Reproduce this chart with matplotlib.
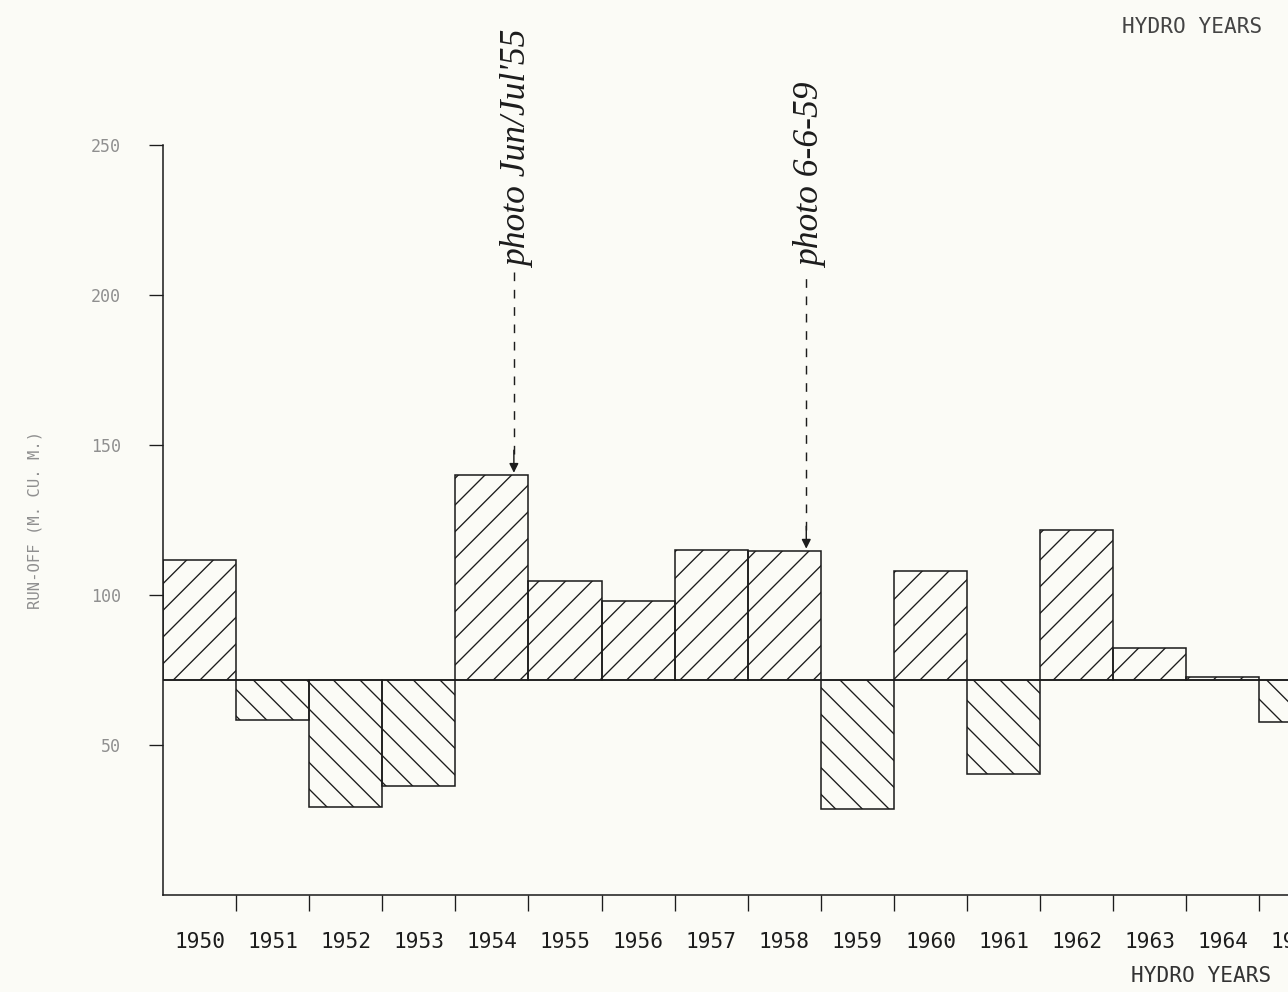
import matplotlib.pyplot as plt
import matplotlib.transforms as mtransforms

# hydro years and annual run-off (M. CU. M.)
years = ['1950', '1951', '1952', '1953', '1954', '1955', '1956', '1957',
         '1958', '1959', '1960', '1961', '1962', '1963', '1964', '1965']
runoff = [111.7, 58.3, 29.3, 36.3, 140.0, 104.7, 98.0, 115.0,
          114.7, 28.7, 108.0, 40.3, 121.7, 82.3, 72.6, 57.7]
baseline = 71.7
y_ticks = [50, 100, 150, 200, 250]

# handwritten notes: (bar index, note text)
notes = [(4, "photo Jun/Jul'55"), (8, "photo 6-6-59")]

paper = '#fbfbf6'
ink = '#1c1c1c'
faint = '#8f8f8f'

# dpi 80 gives a denser hatch, closer to the plotter one
DPI = 80
plt.rcParams['hatch.linewidth'] = 1.2
plt.rcParams['hatch.color'] = ink

fig = plt.figure(figsize=(1288/DPI, 992/DPI), dpi=DPI, facecolor=paper)
ax = fig.add_axes([163/1288, 97/992, 1 - 163/1288, 750/992])
ax.set_facecolor(paper)

x = list(range(len(years)))
heights = [v - baseline for v in runoff]
hatches = ['/' if h >= 0 else '\\' for h in heights]
bars = ax.bar(x, heights, width=1.0, bottom=baseline, align='edge',
              color='none', edgecolor=ink, linewidth=1.4)
for b, h in zip(bars, hatches):
    b.set_hatch(h)

ax.axhline(baseline, color=ink, lw=1.4)

ax.set_xlim(0, 15.39)
ax.set_ylim(0, 250)

for s in ['top', 'right']:
    ax.spines[s].set_visible(False)
for s in ['left', 'bottom']:
    ax.spines[s].set_color(ink)
    ax.spines[s].set_linewidth(1.4)

ax.set_yticks(y_ticks)
ax.set_yticklabels([str(t) for t in y_ticks], family='DejaVu Sans Mono',
                   fontsize=15, color=faint)
ax.tick_params(axis='y', length=13, width=1.2, color=ink, pad=25)

ax.set_xticks(x[1:])
ax.set_xticklabels([])
ax.tick_params(axis='x', length=14, width=1.2, color=ink)

trans = mtransforms.blended_transform_factory(ax.transData, ax.transAxes)
for i, yr in enumerate(years):
    ax.text(i + 0.5, -0.063, yr, transform=trans, ha='center', va='center',
            family='DejaVu Sans Mono', fontsize=19, color=ink, clip_on=False)

# handwritten photo notes with dashed arrows
for i, txt in notes:
    xa = i + 0.8
    top = runoff[i]
    ax.plot([xa, xa], [top + 7, 208], color=ink, lw=1.3, ls=(0, (6, 6)),
            clip_on=False)
    ax.annotate('', xy=(xa, top), xytext=(xa, top + 9),
                arrowprops=dict(arrowstyle='-|>', color=ink, lw=1.3,
                                mutation_scale=17))
    ax.text(xa + 0.07, 209, txt, rotation=90, ha='center', va='bottom',
            family='Liberation Serif', style='italic', fontsize=32,
            color=ink, clip_on=False)

fig.text(35/1288, 1 - 520/992, 'RUN-OFF (M. CU. M.)', rotation=90,
         ha='center', va='center', family='DejaVu Sans Mono',
         fontsize=14, color=faint)
fig.text(1262/1288, 1 - 27/992, 'HYDRO YEARS', ha='right', va='center',
         family='DejaVu Sans Mono', fontsize=19, color='#444444')
fig.text(1271/1288, 1 - 976/992, 'HYDRO YEARS', ha='right', va='center',
         family='DejaVu Sans Mono', fontsize=19, color='#333333')

fig.savefig('out.png', dpi=DPI, facecolor=paper)
